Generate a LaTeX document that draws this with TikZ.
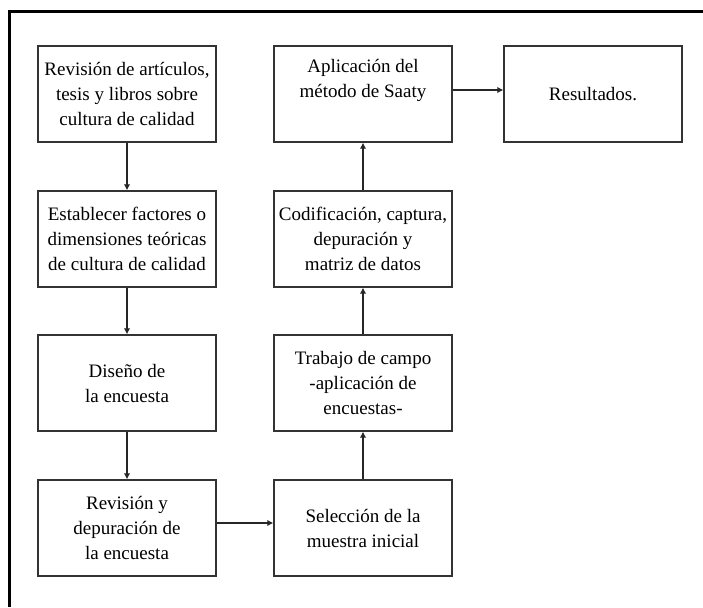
\documentclass[tikz,border=0pt]{standalone}
\usepackage{fontspec}
\setmainfont{Liberation Serif}
\usepackage{tikz}
\usetikzlibrary{arrows.meta}

\begin{document}
\begin{tikzpicture}[x=1pt, y=-1pt,
    paso/.style={draw=black!80, line width=1.3pt, minimum width=178pt, minimum height=96pt,
        inner sep=2pt, align=center, font=\fontsize{19}{25}\selectfont},
    flecha/.style={line width=1.3pt, draw=black!85, -{Latex[length=6pt,width=6.5pt]}}]
    \useasboundingbox (0,0) rectangle (703,607);
    % marco
    \draw[line width=3pt] (9,607) -- (9,12) -- (703,12);
    % columna izquierda
    \node[paso] (revision) at (127,94) {Revisión de artículos,\\ tesis y libros sobre\\ cultura de calidad};
    \node[paso] (factores) at (127,239) {Establecer factores o\\ dimensiones teóricas\\ de cultura de calidad};
    \node[paso] (diseno) at (127,383) {Diseño de\\ la encuesta};
    \node[paso] (depuracion) at (127,528) {Revisión y\\ depuración de\\ la encuesta};
    % columna central
    \node[paso] (seleccion) at (363,528) {Selección de la\\ muestra inicial};
    \node[paso] (campo) at (363,383) {Trabajo de campo\\ -aplicación de\\ encuestas-};
    \node[paso] (codificacion) at (363,239) {Codificación, captura,\\ depuración y\\ matriz de datos};
    \node[paso] (saaty) at (363,94) {Aplicación del\\ método de Saaty\\[6pt]};
    % columna derecha
    \node[paso] (resultados) at (593,94) {Resultados.};
    % flechas
    \draw[flecha] (revision) -- (factores);
    \draw[flecha] (factores) -- (diseno);
    \draw[flecha] (diseno) -- (depuracion);
    \draw[flecha] ([yshift=5pt]depuracion.east) -- ([yshift=5pt]seleccion.west);
    \draw[flecha] (seleccion) -- (campo);
    \draw[flecha] (campo) -- (codificacion);
    \draw[flecha] (codificacion) -- (saaty);
    \draw[flecha] ([yshift=4pt]saaty.east) -- ([yshift=4pt]resultados.west);
\end{tikzpicture}
\end{document}
